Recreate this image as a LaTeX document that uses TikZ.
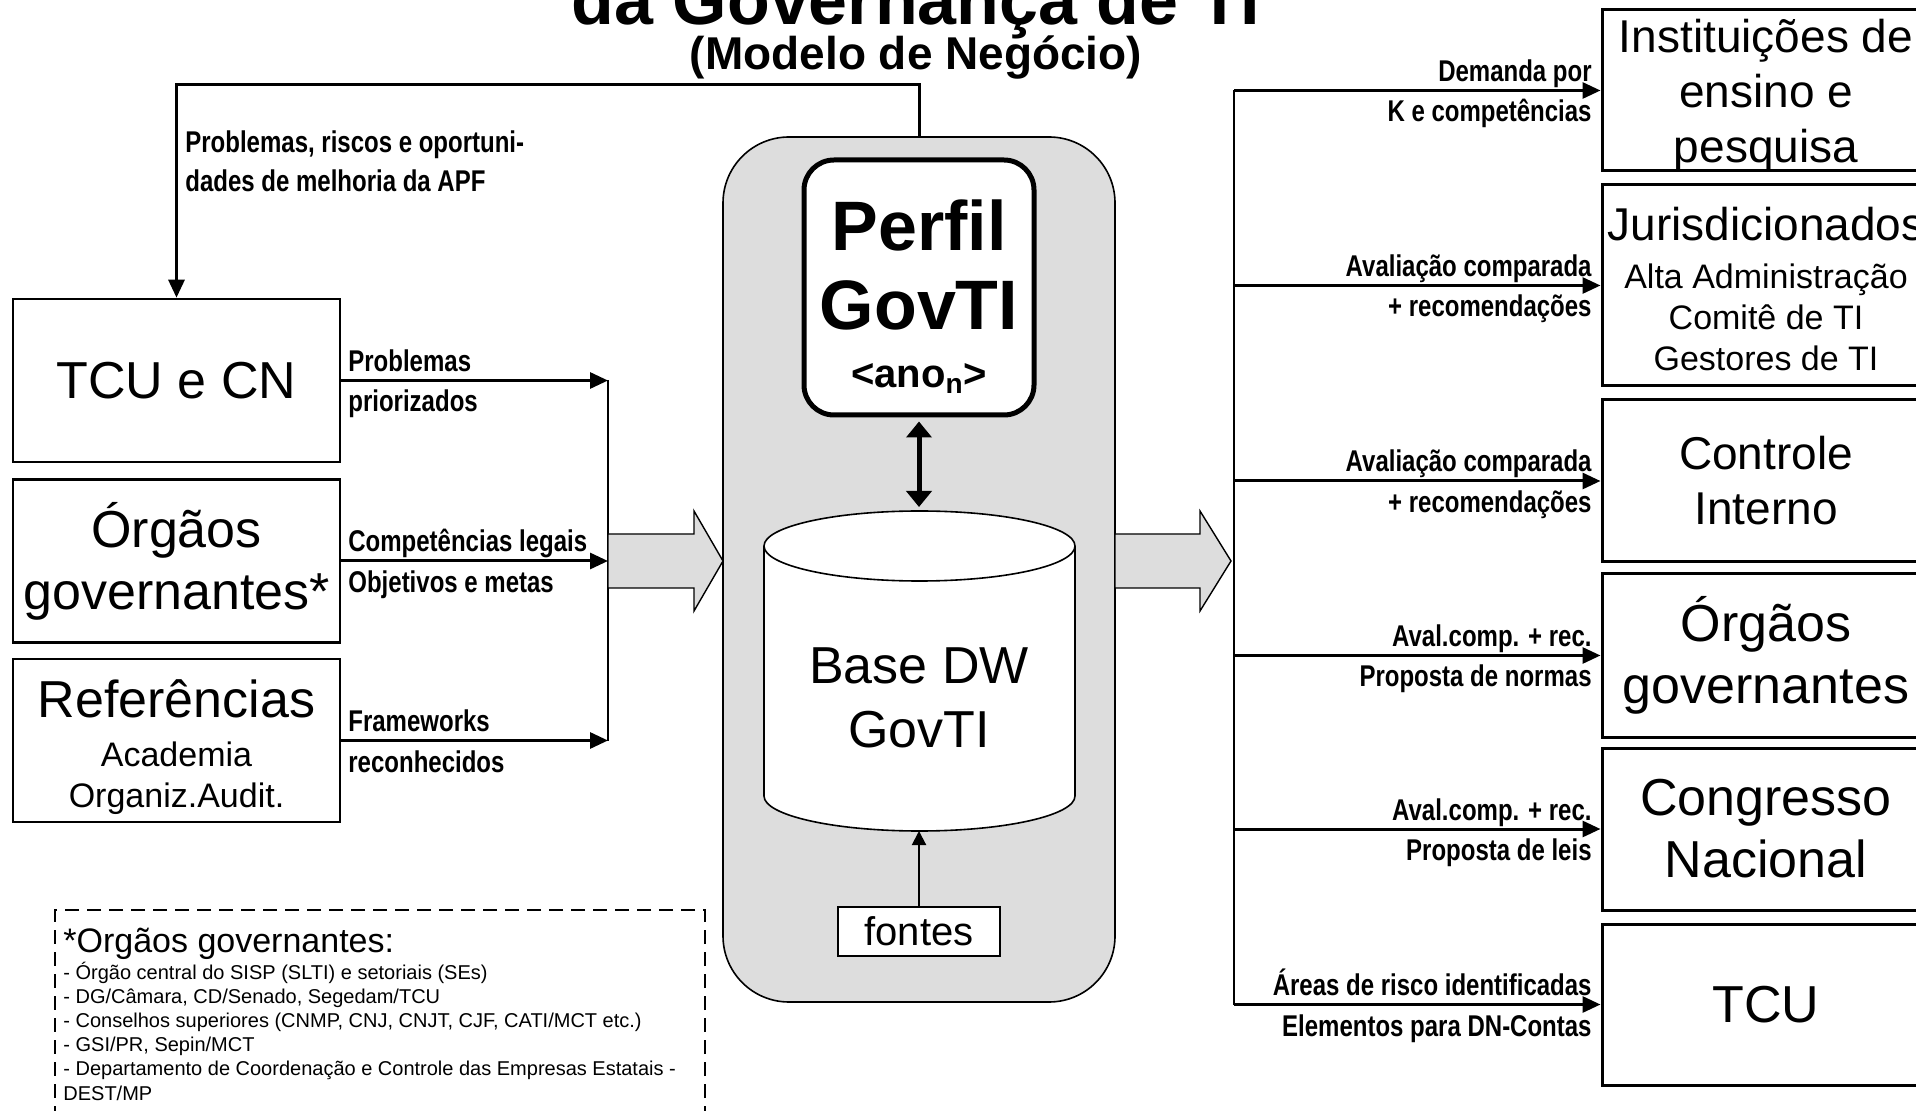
\documentclass[tikz,border=0pt]{standalone}
\usepackage{fontspec}
\setmainfont{Liberation Sans}
\newfontfamily\condfont[FakeStretch=0.8]{Liberation Sans}
\usetikzlibrary{arrows.meta,calc}
\definecolor{boxgray}{RGB}{221,221,221}
\begin{document}
\begin{tikzpicture}[x=0.5pt,y=-0.5pt,
  box/.style={draw,line width=1.3pt,rectangle,inner sep=0pt,align=center},
  lbox/.style={box,minimum width=163.5pt,minimum height=81.5pt,font=\fontsize{26}{31}\selectfont},
  rbox/.style={box,line width=1.5pt,minimum width=164pt,font=\fontsize{26}{31}\selectfont},
  lab/.style={font=\condfont\bfseries\fontsize{15}{18}\selectfont,inner sep=0pt},
  arr/.style={line width=1.5pt,-{Triangle[length=9pt,width=8pt]}},
  ]
\clip (0,0) rectangle (1916,1111);
\fill[white] (0,0) rectangle (1916,1111);

% title
\node[anchor=base,inner sep=0,font=\bfseries\fontsize{35}{40}\selectfont] (t1) at (916,25) {da Governança de TI};
\node[anchor=base,inner sep=0,font=\bfseries\fontsize{23}{27}\selectfont] (t2) at (916,70) {(Modelo de Negócio)};

% left boxes
\node[lbox] (tcu) at (176.5,380.5) {TCU e CN};
\node[lbox] (org) at (176.5,561) {Órgãos\\governantes*};
\node[lbox] (ref) at (176.5,740.5) {};
\node[align=center,inner sep=0,font=\fontsize{17}{20.5}\selectfont] (reftxt) at (176.5,747) {{\fontsize{26}{31}\selectfont Referências}\\[4pt]Academia\\Organiz.Audit.};

% central box
\node[draw,line width=0.8pt,fill=boxgray,rounded corners=33pt,minimum width=196pt,minimum height=432.5pt,inner sep=0] (cbox) at (919,569.5) {};

% perfil
\node[draw,line width=2.5pt,fill=white,rounded corners=15pt,minimum width=115pt,minimum height=127.5pt,inner sep=0] (perfil) at (919,287.5) {};
\node[align=center,inner sep=0,font=\bfseries\fontsize{35}{39.5}\selectfont] (perfiltxt) at (919,296.5) {Perfil\\GovTI\\[-10.5pt]{\fontsize{20}{24}\selectfont <ano\textsubscript{n}>}};

% cylinder
\draw[fill=white,line width=0.8pt] (764,546) -- (764,796) arc[start angle=180,end angle=360,x radius=77.75pt,y radius=17.5pt] -- (1075,546) arc[start angle=0,end angle=180,x radius=77.75pt,y radius=17.5pt] -- cycle;
\draw[line width=0.8pt] (764,546) arc[start angle=180,end angle=360,x radius=77.75pt,y radius=17.5pt];
\node[align=center,inner sep=0,font=\fontsize{26}{32}\selectfont] (dw) at (919,698) {Base DW\\GovTI};
\coordinate (dwtop) at (919,511);
\coordinate (dwbot) at (919,831);

\draw[line width=2.5pt,{Triangle[length=8pt,width=12.5pt]}-{Triangle[length=8pt,width=12.5pt]},shorten <=2pt,shorten >=2pt] (perfil.south) -- (dwtop);

% fontes
\node[draw,line width=1pt,fill=white,minimum width=81pt,minimum height=24.5pt,inner sep=0,font=\fontsize{20}{24}\selectfont] (fontes) at (919,931.5) {fontes};
\draw[line width=1pt,-{Triangle[length=7pt,width=7pt]}] (fontes.north) -- (dwbot);

% feedback
\coordinate (fb) at (177,85);
\draw[arr] (cbox.north) -- (cbox.north |- fb) -| (tcu.north);
\node[lab,anchor=base west] (fb1) at (185,153) {Problemas, riscos e oportuni-};
\node[lab,anchor=base west] (fb2) at (185,192) {dades de melhoria da APF};

% left connectors
\coordinate (jx) at (608,0);
\draw[arr] (tcu.east) -- (tcu.east -| jx);
\draw[arr] (org.east) -- (org.east -| jx);
\draw[arr] (ref.east) -- (ref.east -| jx);
\draw[line width=1.3pt] (tcu.east -| jx) -- (ref.east -| jx);
\node[lab,anchor=base west] (l1a) at (348,371.5) {Problemas};
\node[lab,anchor=base west] (l1b) at (348,412) {priorizados};
\node[lab,anchor=base west] (l2a) at (348,552) {Competências legais};
\node[lab,anchor=base west] (l2b) at (348,592.5) {Objetivos e metas};
\node[lab,anchor=base west] (l3a) at (348,731.5) {Frameworks};
\node[lab,anchor=base west] (l3b) at (348,772) {reconhecidos};

% block arrows
\draw[fill=boxgray,line width=0.7pt] (608,534) -- (694,534) -- (694,511) -- (723,561) -- (694,611) -- (694,588) -- (608,588) -- cycle;
\draw[fill=boxgray,line width=0.7pt] (1115,534) -- (1200,534) -- (1200,511) -- (1231,561) -- (1200,611) -- (1200,588) -- (1115,588) -- cycle;

% right boxes
\node[rbox,minimum height=80.5pt] (r1) at (1766,90.5) {};
\node[align=center,inner sep=0,font=\fontsize{23}{27.5}\selectfont] (r1txt) at (1766,95.5) {Instituições de\\ensino e\\pesquisa};
\node[rbox,minimum height=100.5pt] (r2) at (1766,285.5) {};
\node[align=center,inner sep=0,font=\fontsize{17}{20.5}\selectfont] (r2txt) at (1766,289) {{\fontsize{23}{27}\selectfont Jurisdicionados}\\[3.5pt]Alta Administração\\Comitê de TI\\Gestores de TI};
\node[rbox,minimum height=81pt,font=\fontsize{23}{27.5}\selectfont] (r3) at (1766,481) {Controle\\Interno};
\node[rbox,minimum height=81.5pt] (r4) at (1766,655.5) {Órgãos\\governantes};
\node[rbox,minimum height=81pt] (r5) at (1766,829) {Congresso\\Nacional};
\node[rbox,minimum height=80.5pt] (r6) at (1766,1004.5) {TCU};

% right connectors
\coordinate (rx) at (1234,0);
\draw[line width=1.3pt] (r1.west -| rx) -- (r6.west -| rx);
\foreach \r in {r1,r2,r3,r4,r5,r6} {\draw[arr] (\r.west -| rx) -- (\r.west);}
\node[lab,anchor=base east] (a1) at (1592,81.5) {Demanda por};
\node[lab,anchor=base east] (b1) at (1592,122) {K e competências};
\node[lab,anchor=base east] (a2) at (1592,276.5) {Avaliação comparada};
\node[lab,anchor=base east] (b2) at (1592,317) {+ recomendações};
\node[lab,anchor=base east] (a3) at (1592,472) {Avaliação comparada};
\node[lab,anchor=base east] (b3) at (1592,512.5) {+ recomendações};
\node[lab,anchor=base east] (a4) at (1592,646.5) {Aval.comp. + rec.};
\node[lab,anchor=base east] (b4) at (1592,687) {Proposta de normas};
\node[lab,anchor=base east] (a5) at (1592,820) {Aval.comp. + rec.};
\node[lab,anchor=base east] (b5) at (1592,860.5) {Proposta de leis};
\node[lab,anchor=base east] (a6) at (1592,995.5) {Áreas de risco identificadas};
\node[lab,anchor=base east] (b6) at (1592,1036) {Elementos para DN-Contas};

% note box
\node[draw,dash pattern=on 7pt off 4pt,line width=1pt,minimum width=325pt,minimum height=110pt,inner sep=0] (nota) at (380,1020) {};
\node[anchor=north west,align=left,inner sep=0,font=\fontsize{10}{12.1}\selectfont] (notatxt) at (63,928) {{\fontsize{17}{20}\selectfont *Orgãos governantes:}\\- Órgão central do SISP (SLTI) e setoriais (SEs)\\- DG/Câmara, CD/Senado, Segedam/TCU\\- Conselhos superiores (CNMP, CNJ, CNJT, CJF, CATI/MCT etc.)\\- GSI/PR, Sepin/MCT\\- Departamento de Coordenação e Controle das Empresas Estatais -\\DEST/MP};
\end{tikzpicture}
\end{document}
